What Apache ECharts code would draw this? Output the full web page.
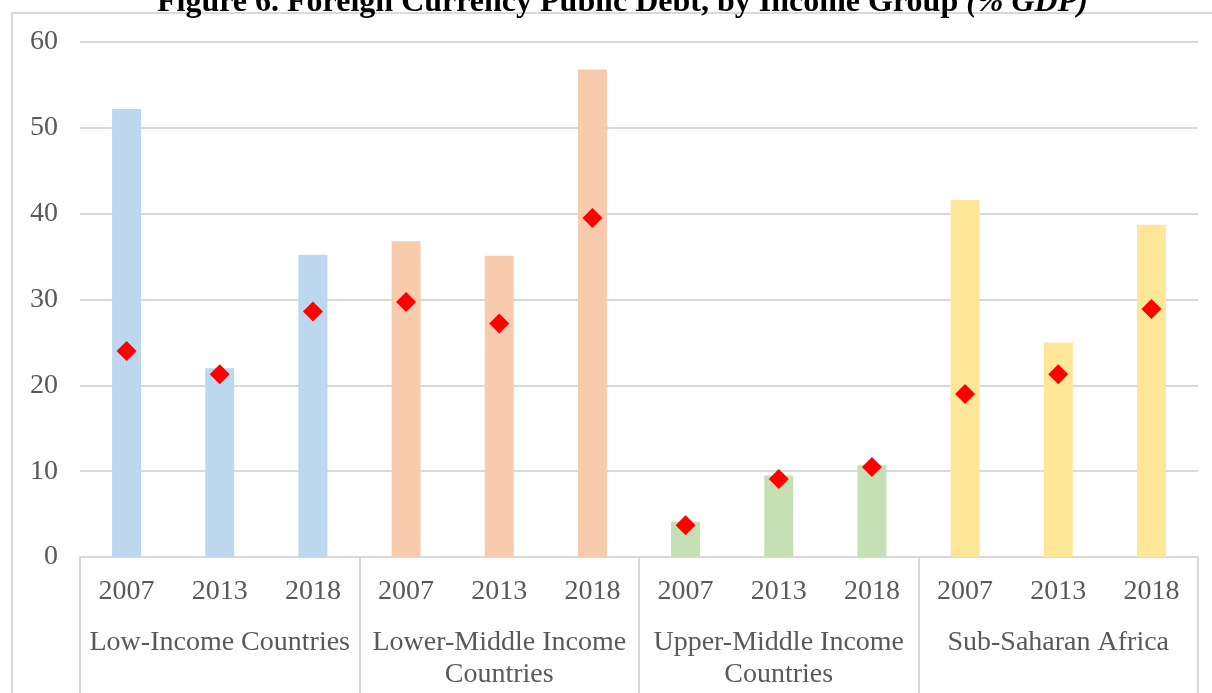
<!DOCTYPE html>
<html>
<head>
<meta charset="utf-8">
<script src="https://cdn.jsdelivr.net/npm/echarts@6/dist/echarts.min.js"></script>
<style>
  html, body { margin: 0; padding: 0; background: #fff; }
  #main { width: 1212px; height: 693px; }
</style>
</head>
<body>
<div id="main"></div>
<script>
// data
const years = ['2007', '2013', '2018', '2007', '2013', '2018', '2007', '2013', '2018', '2007', '2013', '2018'];
const groups = ['Low-Income Countries', 'Lower-Middle Income\nCountries', 'Upper-Middle Income\nCountries', 'Sub-Saharan Africa'];
const groupColors = ['#BDD7EE', '#F8CBAD', '#C5E0B4', '#FFE699'];
const barValues = [52.2, 22.0, 35.2, 36.8, 35.1, 56.8, 4.1, 9.5, 10.7, 41.6, 25.0, 38.7];
const diamondValues = [24.0, 21.3, 28.6, 29.7, 27.2, 39.5, 3.7, 9.1, 10.5, 19.0, 21.3, 28.9];

const chart = echarts.init(document.getElementById('main'));
const serif = "'Liberation Serif', 'Times New Roman', serif";
const gray = '#595959';
const lineGray = '#d9d9d9';

const option = {
  animation: false,
  textStyle: { fontFamily: serif },
  title: {
    text: '{b|Figure 6. Foreign Currency Public Debt, by Income Group }{i|(% GDP)}',
    left: 152,
    top: -18,
    textStyle: {
      rich: {
        b: { fontFamily: serif, fontSize: 32, fontWeight: 'bold', color: '#000' },
        i: { fontFamily: serif, fontSize: 32, fontStyle: 'italic', color: '#000' }
      }
    }
  },
  graphic: [{
    type: 'rect',
    shape: { x: 12, y: 13, width: 1220, height: 700 },
    style: { fill: 'none', stroke: lineGray, lineWidth: 2 },
    silent: true,
    z: -1
  }],
  grid: { left: 80, right: 14, top: 42, bottom: 136 },
  xAxis: [{
    type: 'category',
    data: years,
    axisTick: { show: false },
    axisLine: { lineStyle: { color: lineGray, width: 2 } },
    axisLabel: { fontSize: 28, color: gray, margin: 21, fontFamily: serif, interval: 0 }
  }, {
    type: 'category',
    data: groups,
    position: 'bottom',
    axisLine: { show: false },
    axisTick: { show: true, length: 136, lineStyle: { color: lineGray, width: 2 } },
    axisLabel: { fontSize: 28, color: gray, margin: 70, lineHeight: 32, fontFamily: serif, interval: 0 }
  }],
  yAxis: {
    type: 'value',
    min: 0,
    max: 60,
    interval: 10,
    axisLine: { show: false },
    axisTick: { show: false },
    splitLine: { lineStyle: { color: lineGray, width: 2 } },
    axisLabel: { fontSize: 28, color: gray, margin: 22, fontFamily: serif }
  },
  series: [{
    type: 'bar',
    xAxisIndex: 0,
    barWidth: 29,
    data: barValues.map((v, i) => ({
      value: v,
      itemStyle: { color: groupColors[Math.floor(i / 3)] }
    }))
  }, {
    type: 'scatter',
    xAxisIndex: 0,
    symbol: 'diamond',
    symbolSize: [20, 20],
    itemStyle: { color: '#FF0000', opacity: 1 },
    data: diamondValues,
    z: 5
  }]
};

chart.setOption(option);
</script>
</body>
</html>
